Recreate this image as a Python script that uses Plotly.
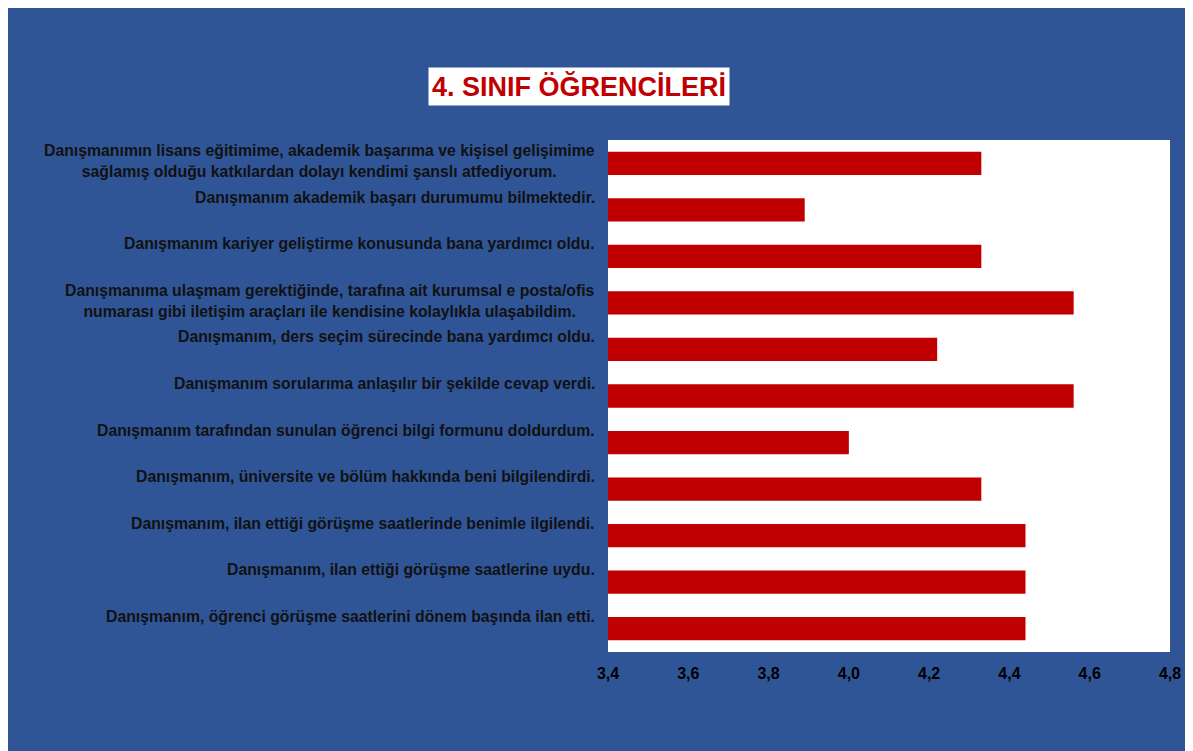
import plotly.graph_objects as go

# survey statements, top to bottom
statements = [
    "Danışmanımın lisans eğitimime, akademik başarıma ve kişisel gelişimime<br>sağlamış olduğu katkılardan dolayı kendimi şanslı atfediyorum.",
    "Danışmanım akademik başarı durumumu bilmektedir.",
    "Danışmanım kariyer geliştirme konusunda bana yardımcı oldu.",
    "Danışmanıma ulaşmam gerektiğinde, tarafına ait kurumsal e posta/ofis<br>numarası gibi iletişim araçları ile kendisine kolaylıkla ulaşabildim.",
    "Danışmanım, ders seçim sürecinde bana yardımcı oldu.",
    "Danışmanım sorularıma anlaşılır bir şekilde cevap verdi.",
    "Danışmanım tarafından sunulan öğrenci bilgi formunu doldurdum.",
    "Danışmanım, üniversite ve bölüm hakkında beni bilgilendirdi.",
    "Danışmanım, ilan ettiği görüşme saatlerinde benimle ilgilendi.",
    "Danışmanım, ilan ettiği görüşme saatlerine uydu.",
    "Danışmanım, öğrenci görüşme saatlerini dönem başında ilan etti.",
]
scores = [4.33, 3.89, 4.33, 4.56, 4.22, 4.56, 4.00, 4.33, 4.44, 4.44, 4.44]
x_ticks = [3.4, 3.6, 3.8, 4.0, 4.2, 4.4, 4.6, 4.8]
title = "4. SINIF ÖĞRENCİLERİ"

FONT = "Liberation Sans, Arial, sans-serif"
ids = list(range(len(statements)))

fig = go.Figure(go.Bar(
    x=scores, y=ids, orientation="h",
    marker=dict(color="#C00000", line=dict(width=0)),
    width=0.5,
))

# statement labels sit a little above their bars, like in the slide
for i, txt in zip(ids, statements):
    fig.add_annotation(
        x=0, xref="paper", y=i, yref="y",
        text=f"<b>{txt}</b>", showarrow=False,
        xanchor="right", yanchor="top", xshift=-11, yshift=23,
        align="center",
        font=dict(family=FONT, size=15.8, color="#111111"),
    )

# title in a white box
fig.add_annotation(
    xref="paper", yref="paper", x=(579 - 608) / 562, y=(652 - 86) / 512,
    xanchor="center", yanchor="middle",
    text=f"<b>{title}</b>", showarrow=False,
    font=dict(family=FONT, size=27, color="#C00000"),
    bgcolor="white", borderpad=3,
)

fig.update_layout(
    width=1185, height=743,
    paper_bgcolor="#2F5597",
    plot_bgcolor="white",
    margin=dict(l=600, r=23, t=132, b=99),
    separators=",.",
    showlegend=False,
    font=dict(family=FONT, color="black"),
    xaxis=dict(range=[3.4, 4.8], tickvals=x_ticks, tickformat=".1f",
               showgrid=False, zeroline=False, ticks="", ticklabelstandoff=10,
               tickfont=dict(size=16, color="black", weight="bold")),
    yaxis=dict(autorange="reversed", showticklabels=False, showgrid=False,
               zeroline=False),
    bargap=0.5,
)

fig.write_html("out.html")
